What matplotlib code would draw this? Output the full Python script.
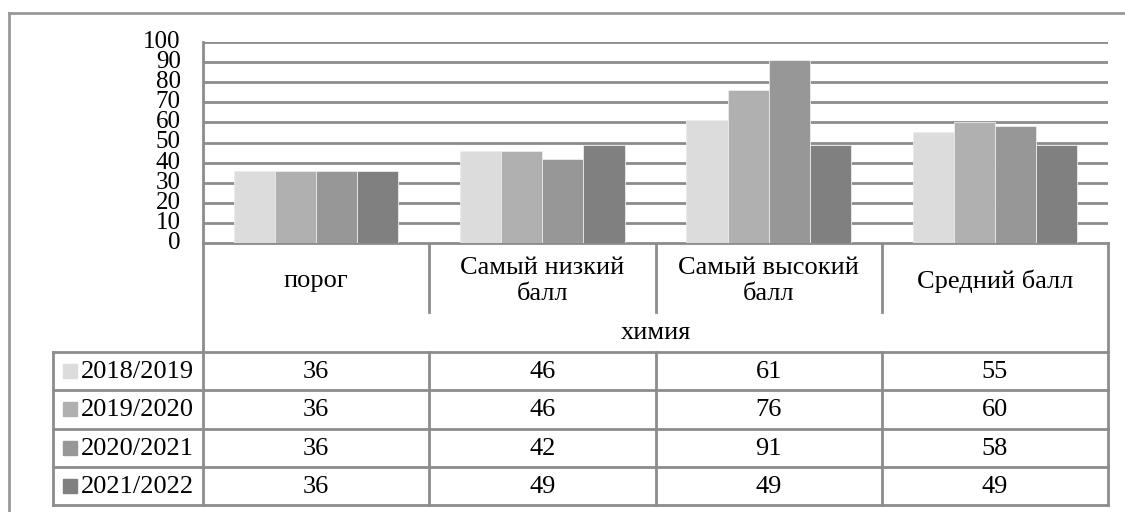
import matplotlib
matplotlib.use("Agg")
import matplotlib.pyplot as plt
from matplotlib.patches import Rectangle

plt.rcParams['font.family'] = ['Liberation Serif', 'DejaVu Serif']

categories = ["порог", "Самый низкий\nбалл", "Самый высокий\nбалл", "Средний балл"]
subject = "химия"
years = ["2018/2019", "2019/2020", "2020/2021", "2021/2022"]
v_2018 = [36, 46, 61, 55]
v_2019 = [36, 46, 76, 60]
v_2020 = [36, 42, 91, 58]
v_2021 = [36, 49, 49, 49]
series = [v_2018, v_2019, v_2020, v_2021]
colors = ["#dcdcdc", "#b0b0b0", "#979797", "#808080"]
line_c = "#8c8c8c"
fs = 19

W, H = 1125, 512
fig = plt.figure(figsize=(W / 100, H / 100), dpi=100)

# background axes in pixel coordinates
bg = fig.add_axes([0, 0, 1, 1])
bg.set_xlim(0, W)
bg.set_ylim(H, 0)
bg.axis("off")

# plot area
x0, x1 = 203, 1108
ytop, ybot = 42, 243
ax = fig.add_axes([x0 / W, 1 - ybot / H, (x1 - x0) / W, (ybot - ytop) / H])
n = len(categories)
bw = 0.1815
for i, vals in enumerate(series):
    xs = [c + 0.5 + (i - 1.5) * bw for c in range(n)]
    ax.bar(xs, vals, width=bw, color=colors[i], edgecolor="#ececec", linewidth=0.6, zorder=3)
ax.set_xlim(0, n)
ax.set_ylim(0, 100)
ax.set_yticks(range(0, 101, 10))
ax.set_xticks([])
ax.grid(axis="y", color=line_c, linewidth=2, zorder=0)
for s in ["top", "right", "bottom"]:
    ax.spines[s].set_visible(False)
ax.spines["left"].set_color(line_c)
ax.spines["left"].set_linewidth(2)
ax.tick_params(axis="y", length=0, pad=16, labelsize=18)
for lab in ax.get_yticklabels():
    lab.set_verticalalignment("center")

# outer frame
bg.plot([9, 9], [13, H], color="#999999", lw=2)
bg.plot([9, W], [13, 13], color="#999999", lw=2)

# category header area
colw = (x1 - x0) / n
cat_bot = 312
rows_top = 352
row_h = (505 - rows_top) / len(years)
tab_left = 53
lw = 2
bg.plot([x0, x1], [ybot, ybot], color=line_c, lw=lw)
bg.plot([x0, x0], [ybot, 505], color=line_c, lw=lw)
bg.plot([x1, x1], [ybot, 505], color=line_c, lw=lw)
for c in range(1, n):
    xc = x0 + c * colw
    bg.plot([xc, xc], [ybot, cat_bot], color=line_c, lw=lw)
    bg.plot([xc, xc], [rows_top, 505], color=line_c, lw=lw)
for c, name in enumerate(categories):
    bg.text(x0 + (c + 0.5) * colw, 281, name, ha="center", va="center",
            fontsize=fs, linespacing=1.25)
bg.text((x0 + x1) / 2, (cat_bot + rows_top) / 2 + 1, subject, ha="center", va="center", fontsize=fs)

# data table rows
for r in range(len(years) + 1):
    y = rows_top + r * row_h
    bg.plot([tab_left, x1], [y, y], color=line_c, lw=lw)
bg.plot([tab_left, tab_left], [rows_top, 505], color=line_c, lw=lw)
for r, (yr, vals) in enumerate(zip(years, series)):
    yc = rows_top + (r + 0.5) * row_h
    bg.add_patch(Rectangle((63, yc - 7), 14, 14, color=colors[r]))
    bg.text(81, yc + 1, yr, ha="left", va="center", fontsize=fs)
    for c, v in enumerate(vals):
        bg.text(x0 + (c + 0.5) * colw, yc + 1, str(v), ha="center", va="center", fontsize=fs)

fig.savefig("out.png", dpi=100)
